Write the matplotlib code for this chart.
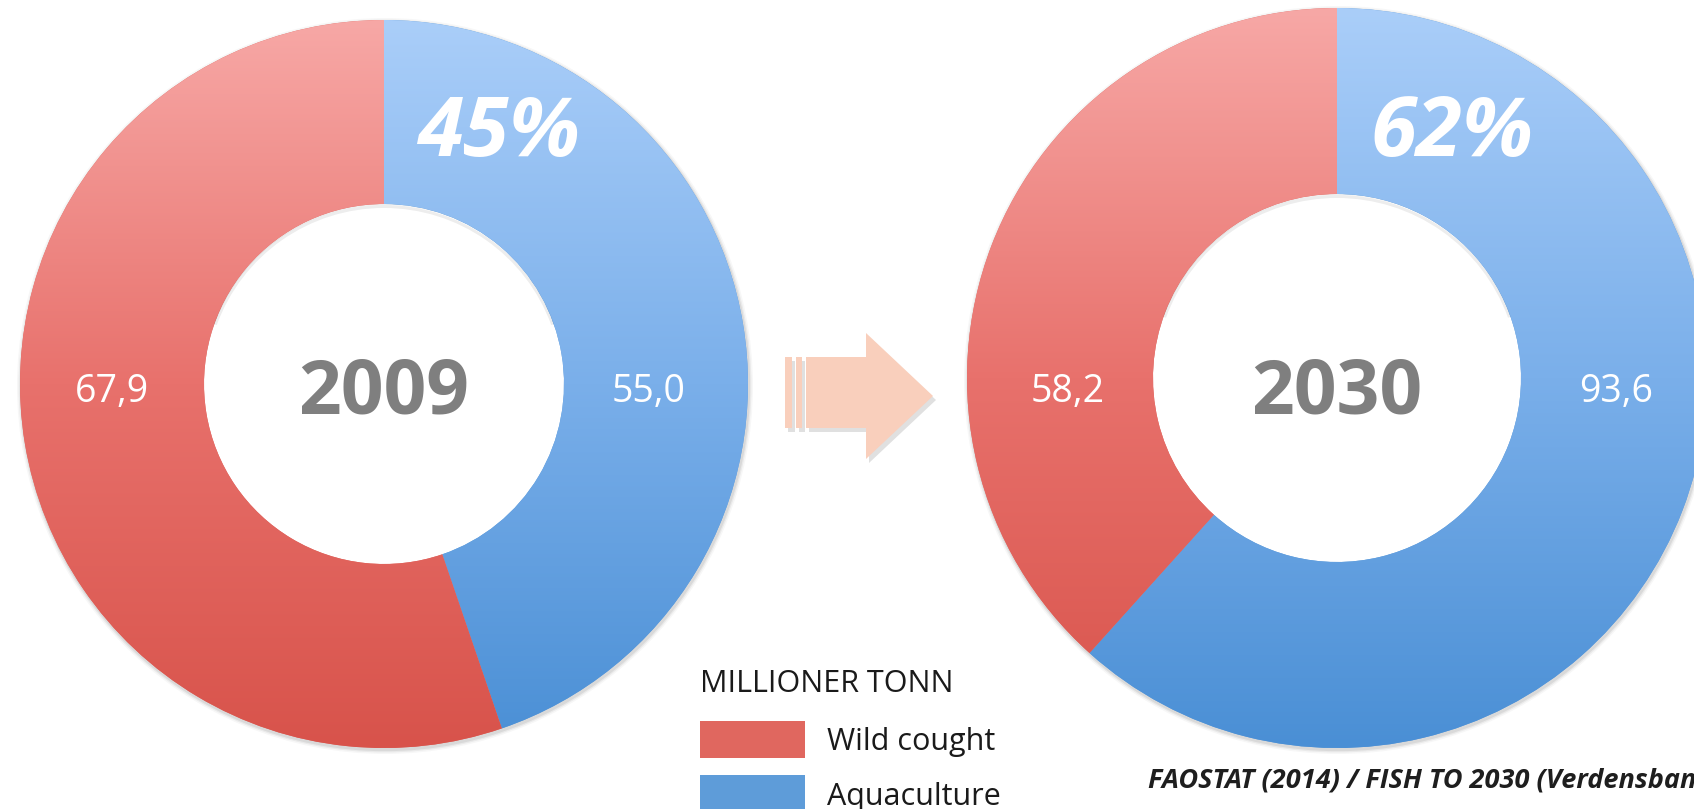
import numpy as np
import matplotlib.pyplot as plt
from matplotlib.patches import Polygon, Rectangle, Wedge
from matplotlib.colors import LinearSegmentedColormap

plt.rcParams['font.family'] = ['Open Sans', 'DejaVu Sans']

# data (million tonnes)
years = ["2009", "2030"]
wild = [67.9, 58.2]
aqua = [55.0, 93.6]
series = ["Wild cought", "Aquaculture"]
series_colors = ['#e0675f', '#5e9cd9']
legend_title = "MILLIONER TONN"
source = "FAOSTAT (2014) / FISH TO 2030 (Verdensbanken)"

W, H = 1694, 809
fig = plt.figure(figsize=(W / 100, H / 100), dpi=100)
ax = fig.add_axes([0, 0, 1, 1])

# layout in pixel units (y up)
centers = [(384, 425), (1337, 431)]
radii = [364, 370]
holes = [180, 184]
label_dx = [(0, -7), (8, 2)]

red_cmap = LinearSegmentedColormap.from_list('red', ['#d8534b', '#e8716c', '#f7a8a6'])
blue_cmap = LinearSegmentedColormap.from_list('blue', ['#4a8fd5', '#7aafea', '#aacef9'])
grad = np.linspace(0, 1, 256).reshape(-1, 1)

for i in range(2):
    cx, cy = centers[i]
    R, r = radii[i], holes[i]

    # soft shadow round the outer edge
    for k, a in [(4, 0.03), (2.5, 0.05), (1.2, 0.07)]:
        ax.add_patch(Wedge((cx + 1, cy - 2), R + k, 0, 360, width=R - r,
                           facecolor='black', alpha=a, linewidth=0, zorder=0.5))

    wedges, _ = ax.pie([aqua[i], wild[i]], startangle=90, counterclock=False,
                       radius=R, center=(cx, cy),
                       colors=[series_colors[1], series_colors[0]],
                       wedgeprops=dict(width=R - r, linewidth=0))
    for w, cm in zip(wedges, [blue_cmap, red_cmap]):
        im = ax.imshow(grad, cmap=cm, extent=(cx - R, cx + R, cy - R, cy + R),
                       origin='lower', aspect='auto', zorder=2)
        im.set_clip_path(w)

    # inner shadow at the top of the hole
    ax.add_patch(Wedge((cx, cy - 2), r + 1, 20, 160, width=3,
                       facecolor='black', alpha=0.07, linewidth=0, zorder=3))

    total = wild[i] + aqua[i]
    ax.text(cx, H - 413, years[i], fontsize=54, fontweight='bold', color='#7f7f7f',
            ha='center', va='baseline', zorder=5)
    mid = (R + r) / 2
    ax.text(cx - mid + label_dx[i][0], H - 402, f"{wild[i]:.1f}".replace('.', ','),
            fontsize=27, color='white', ha='center', va='baseline', zorder=5)
    ax.text(cx + mid + label_dx[i][1], H - 402, f"{aqua[i]:.1f}".replace('.', ','),
            fontsize=27, color='white', ha='center', va='baseline', zorder=5)
    ax.text(cx + 115, H - 156, f"{round(100 * aqua[i] / total)}%", fontsize=60,
            fontweight='bold', fontstyle='italic', color='white',
            ha='center', va='baseline', zorder=5)

# arrow between the two charts
peach = '#f9cfbc'
def arrow_parts(dx=0, dy=0):
    parts = [Rectangle((785 + dx, H - 428 + dy), 7, 71),
             Rectangle((796 + dx, H - 428 + dy), 6, 71),
             Polygon([(806 + dx, H - 357 + dy), (866 + dx, H - 357 + dy),
                      (866 + dx, H - 333 + dy), (933 + dx, H - 396 + dy),
                      (866 + dx, H - 459 + dy), (866 + dx, H - 428 + dy),
                      (806 + dx, H - 428 + dy)])]
    return parts
for p in arrow_parts(3, -4):
    p.set(facecolor='black', alpha=0.12, linewidth=0, zorder=3)
    ax.add_patch(p)
for p in arrow_parts():
    p.set(facecolor=peach, linewidth=0, zorder=4)
    ax.add_patch(p)

# legend
ax.text(700, H - 692, legend_title, fontsize=22, color='#1a1a1a',
        ha='left', va='baseline')
for j, (name, col) in enumerate(zip(series, series_colors)):
    top = 721 + j * 54
    ax.add_patch(Rectangle((700, H - top - 37), 105, 37, facecolor=col,
                           linewidth=0, zorder=5))
    ax.text(827, H - (750 + j * 55), name, fontsize=22, color='#1a1a1a',
            ha='left', va='baseline', zorder=5)

ax.text(1148, H - 787, source, fontsize=19.5, fontweight='bold', fontstyle='italic',
        color='#1e1e1e', ha='left', va='baseline', zorder=5)

ax.set_xlim(0, W)
ax.set_ylim(0, H)
ax.axis('off')

fig.savefig('out.png', dpi=100)
